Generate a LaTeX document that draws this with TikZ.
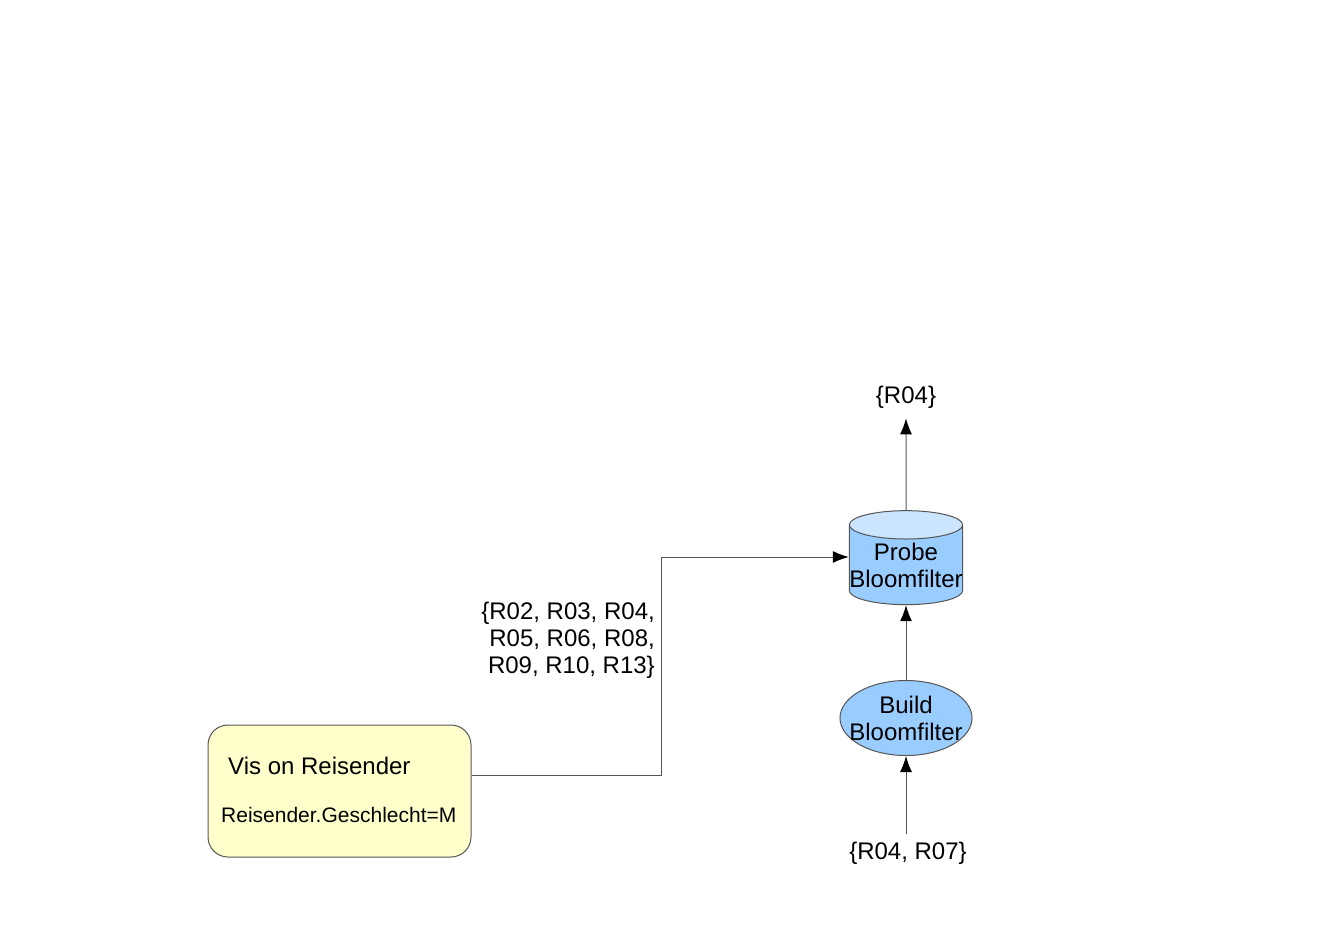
\documentclass[tikz,border=0pt]{standalone}
\usepackage{fontspec}
\setmainfont{Liberation Sans}
\usetikzlibrary{shapes.geometric}
\usetikzlibrary{arrows.meta}
\definecolor{boxyellow}{HTML}{FFFFCC}
\definecolor{bfblue}{HTML}{99CCFF}
\definecolor{bftop}{HTML}{CCE5FF}
\definecolor{linegray}{HTML}{555555}

\begin{document}
\begin{tikzpicture}[x=1pt,y=-1pt]
  \tikzstyle{labels}=[font=\fontsize{24}{27}\selectfont,align=center,inner sep=0pt]
  \tikzstyle{flow}=[draw=linegray,line width=1pt,-{Latex[length=16pt,width=12pt,black]}]
  \useasboundingbox (0,0) rectangle (1334,945);
  \node (vis) at (339.5,791) [rectangle,rounded corners=20pt,draw=linegray,line width=1pt,fill=boxyellow,minimum width=263pt,minimum height=132pt] {};
  \node[labels,anchor=west] (vislabel) at (228,766) {Vis on Reisender};
  \node[labels,anchor=west,font=\fontsize{21}{24}\selectfont] (condlabel) at (221,815) {Reisender.Geschlecht=M};
  \node (probe) at (906,565) [cylinder,shape border rotate=90,aspect=0.25,draw=linegray,line width=1pt,cylinder uses custom fill,cylinder body fill=bfblue,cylinder end fill=bftop,minimum width=113pt,minimum height=94pt,inner sep=0pt,font=\fontsize{24}{27}\selectfont,align=center] {Probe\\Bloomfilter};
  \node (build) at (906,718) [ellipse,draw=linegray,line width=1pt,fill=bfblue,minimum width=132pt,minimum height=75pt,inner xsep=-10pt,inner ysep=-2pt,font=\fontsize{24}{27}\selectfont,align=center] {Build\\Bloomfilter};
  \node[labels] (outlabel) at (906,397) {\{R04\}};
  \node[labels] (inlabel) at (908,853) {\{R04, R07\}};
  \node[labels,align=right,anchor=east] (leftset) at (655,640) {\{R02, R03, R04,\\R05, R06, R08,\\R09, R10, R13\}};
  \draw[flow] ([yshift=16pt]vis.east) -- ++(190,0) |- ([yshift=8pt]probe.west);
  \draw[flow,shorten >=10pt] (probe.north) -- (outlabel.south);
  \draw[flow] (build.north) -- (probe.south);
  \draw[flow,shorten <=8pt] ([xshift=-2pt]inlabel.north) -- (build.south);
  \end{tikzpicture}
\end{document}
